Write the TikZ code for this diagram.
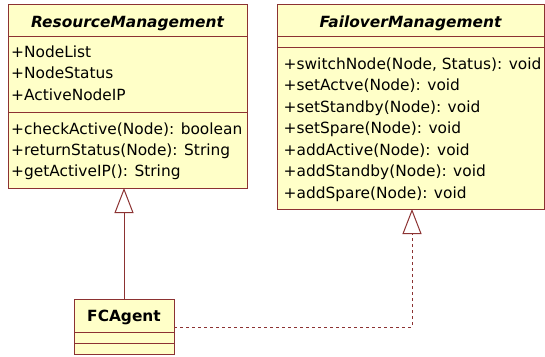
\documentclass[tikz,border=0pt]{standalone}
\usepackage{fontspec}
\setmainfont{DejaVu Sans}[ItalicFont={DejaVu Sans Oblique}, BoldFont={DejaVu Sans Bold}, BoldItalicFont={DejaVu Sans Bold Oblique}]
\usetikzlibrary{arrows.meta}
\definecolor{classfill}{RGB}{255,255,200}
\definecolor{classline}{RGB}{140,50,50}
\tikzset{
  part/.style={rectangle, draw=classline, fill=classfill, line width=1pt, anchor=north west, inner sep=0pt, outer sep=0pt},
  member/.style={anchor=base west, inner sep=0pt, font=\fontsize{15.4}{18}\selectfont},
  classname/.style={anchor=base, inner sep=0pt, font=\fontsize{15.4}{18}\selectfont\bfseries\itshape},
  generalize/.style={draw=classline, line width=1pt, -{Triangle[open, width=19pt, length=25pt, fill=white]}},
}
\begin{document}
\begin{tikzpicture}[x=1pt, y=-1pt]
        \useasboundingbox (0,0) rectangle (545,356);

        % ResourceManagement class
        \node at (8,4) (rmHead) [part, minimum width=239pt, minimum height=32pt] {};
        \node at (rmHead.south west) (rmAttr) [part, minimum width=239pt, minimum height=76pt] {};
        \node at (rmAttr.south west) (rmOps) [part, minimum width=239pt, minimum height=76pt] {};
        \node at (127.5,27) (rmName) [classname] {ResourceManagement};
        \node at (11,57.5) (rmAttr1) [member] {+NodeList};
        \node at (11,78.7) (rmAttr2) [member] {+NodeStatus};
        \node at (11,100) (rmAttr3) [member] {+ActiveNodeIP};
        \node at (11,134) (rmOp1) [member] {+checkActive(Node): boolean};
        \node at (11,155.3) (rmOp2) [member] {+returnStatus(Node): String};
        \node at (11,176.6) (rmOp3) [member] {+getActiveIP(): String};

        % FailoverManagement class
        \node at (277,4) (fmHead) [part, minimum width=267pt, minimum height=32pt] {};
        \node at (fmHead.south west) (fmAttr) [part, minimum width=267pt, minimum height=11pt] {};
        \node at (fmAttr.south west) (fmOps) [part, minimum width=267pt, minimum height=162pt] {};
        \node at (410.5,27) (fmName) [classname] {FailoverManagement};
        \node at (283.5,69) (fmOp1) [member] {+switchNode(Node, Status): void};
        \node at (283.5,90.5) (fmOp2) [member] {+setActve(Node): void};
        \node at (283.5,112) (fmOp3) [member] {+setStandby(Node): void};
        \node at (283.5,133.5) (fmOp4) [member] {+setSpare(Node): void};
        \node at (283.5,155) (fmOp5) [member] {+addActive(Node): void};
        \node at (283.5,176.5) (fmOp6) [member] {+addStandby(Node): void};
        \node at (283.5,198) (fmOp7) [member] {+addSpare(Node): void};

        % FCAgent class
        \node at (74,299) (fcHead) [part, minimum width=100pt, minimum height=33pt] {};
        \node at (fcHead.south west) (fcAttr) [part, minimum width=100pt, minimum height=11pt] {};
        \node at (fcAttr.south west) (fcOps) [part, minimum width=100pt, minimum height=11pt] {};
        \node at (124,321.5) (fcName) [classname, font=\fontsize{15.4}{18}\selectfont\bfseries] {FCAgent};

        % Relations
        \coordinate (bend) at (412,327);
        \draw[generalize] (fcHead.north) -- (fcHead.north |- rmOps.south);
        \draw[generalize, dash pattern=on 3pt off 3pt] (fcHead.east |- bend) -- (bend) -- (bend |- fmOps.south);
\end{tikzpicture}
\end{document}
